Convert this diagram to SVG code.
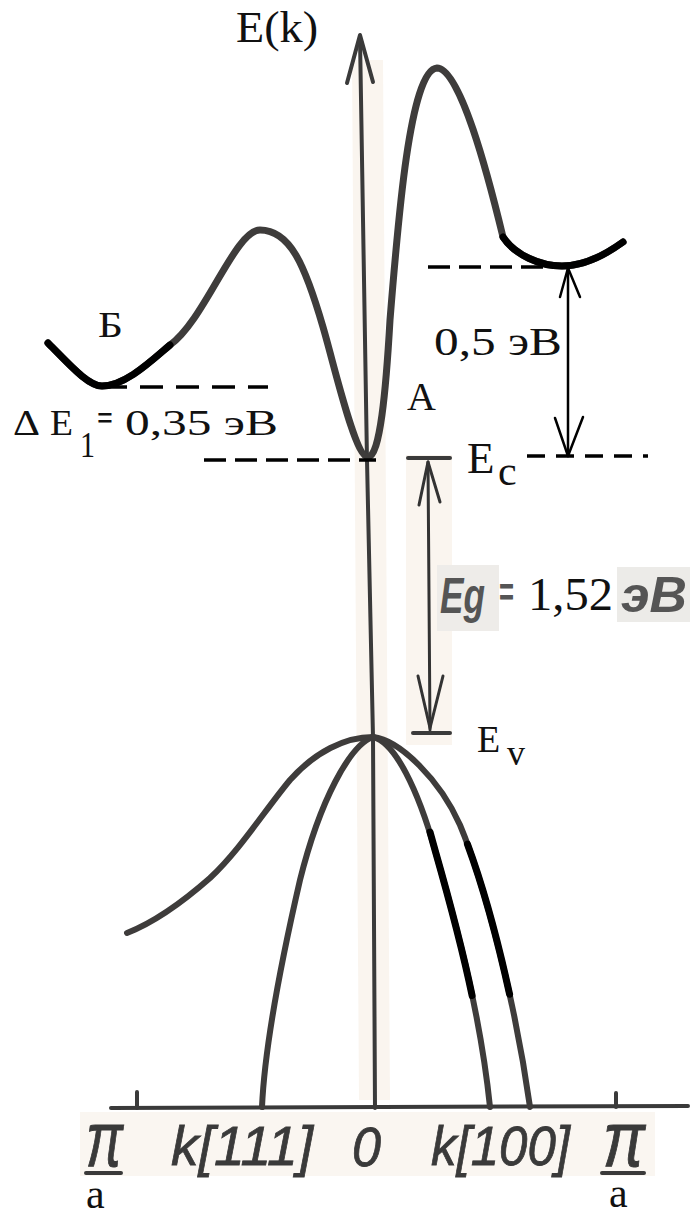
<svg xmlns="http://www.w3.org/2000/svg" width="692" height="1218" viewBox="0 0 692 1218">
<style>
.band{fill:none;stroke:#3e3c3b;stroke-width:7;stroke-linecap:round;stroke-linejoin:round}
.vb{fill:none;stroke:#3e3c3b;stroke-width:6;stroke-linecap:round}
.blk{fill:none;stroke:#000;stroke-width:7;stroke-linecap:round}
.ax{fill:none;stroke:#3a3a3a;stroke-width:4;stroke-linecap:round;stroke-linejoin:round}
.dash{fill:none;stroke:#000;stroke-width:3.5}
.arr{fill:none;stroke:#000;stroke-width:2.5;stroke-linecap:round;stroke-linejoin:round}
.arr2{fill:none;stroke:#333;stroke-width:3;stroke-linecap:round;stroke-linejoin:round}
.serif{fill:#111}
.gost{font-family:"Liberation Sans",Arial,sans-serif;font-style:italic;fill:#3a3a3a;stroke:#3a3a3a;stroke-width:0.8}
.tint{fill:#faf5ef}
</style>
<rect width="692" height="1218" fill="#fff"/>
<g id="tints">
<path class="tint" d="M352,60 L383,60 L390,1100 L359,1100 Z"/>
<path class="tint" d="M406,455 L452,455 L452,745 L406,745 Z"/>
<rect x="80" y="1112" width="575" height="64" fill="#faf6f1"/>
<rect x="437" y="565" width="62" height="66" fill="#eeece9"/>
<rect x="617" y="567" width="73" height="55" fill="#ecebe8"/>
</g>
<g id="axes">
<path class="ax" d="M360,38 L367,460 L373,737 L375,1108"/>
<path class="ax" d="M347,83 L360,35 L373,82"/>
<path class="ax" d="M111,1108 L688,1106"/>
<path class="ax" stroke-width="3" d="M137,1092 L137,1108 M616,1093 L616,1107"/>
</g>
<g id="conduction-band">
<path class="band" d="M48,343 C70,365 88,386 102,386 C125,386 150,362 170,345 C205,320 235,230 260,230 C290,230 305,265 323,327 C335,368 355,457 368,457 C380,457 386,390 390,320 C398,220 410,70 437,68 C460,68 488,175 503,237 C515,255 540,266 562,266 C585,266 605,255 623,242"/>
<path class="blk" d="M48,343 C70,365 88,386 102,386 C125,386 150,362 170,345"/>
<path class="blk" d="M503,237 C515,255 540,266 562,266 C585,266 605,255 623,242"/>
</g>
<g id="valence-bands">
<path class="vb" d="M373,737 C345,737 315,752 290,780 C265,810 240,850 210,878 C185,900 155,922 127,933"/>
<path class="vb" d="M373,737 C350,745 320,800 300,880 C285,945 265,1040 262,1107"/>
<path class="vb" d="M373,737 C395,742 418,790 435,850 C455,920 480,1010 490,1107"/>
<path class="vb" d="M373,737 C400,740 440,780 460,825 C485,885 515,1000 530,1107"/>
<path class="blk" stroke-width="6" d="M430,832 L435,850 C447,892 460.8,941.2 472.1,995.5"/>
<path class="blk" stroke-width="6" d="M467.4,844 C481.7,882.8 496.9,936.5 509.6,994.3"/>
</g>
<g id="levels">
<path class="dash" stroke-dasharray="23 13" d="M104,387 L268,387"/>
<path class="dash" stroke-dasharray="22 9" d="M204,460 L376,460"/>
<path class="ax" stroke-width="3.5" d="M408,458 L450,458"/>
<path class="dash" stroke-width="3" stroke-dasharray="18 11" d="M527,456 L648,456"/>
<path class="dash" stroke-dasharray="22 9" d="M428,267 L560,267"/>
<path class="ax" stroke-width="3.5" d="M413,733 L450,733"/>
</g>
<g id="connectors">
<path class="arr" d="M568,268 L568,456"/>
<path class="arr" d="M560,297 L568,268 L580,297"/>
<path class="arr" d="M555,418 L568,456 L583,417"/>
<path class="arr2" d="M428,462 L430,730"/>
<path class="arr2" d="M419,505 L428,462 L440,502"/>
<path class="arr2" d="M418,676 L430,728 L443,676"/>
</g>
<g id="labels" font-family="'Liberation Serif', 'Times New Roman', serif">
<text class="serif" x="236" y="42" font-size="44" textLength="82" lengthAdjust="spacingAndGlyphs">E(k)</text>
<text class="serif" x="98" y="337" font-size="36" textLength="25" lengthAdjust="spacingAndGlyphs">Б</text>
<text class="serif" x="407" y="410" font-size="40">A</text>
<text class="serif" x="434" y="355" font-size="40" textLength="128" lengthAdjust="spacingAndGlyphs">0,5 эВ</text>
<text class="serif" x="13" y="435" font-size="36" textLength="27" lengthAdjust="spacingAndGlyphs">Δ</text>
<text class="serif" x="50" y="435" font-size="36" textLength="23" lengthAdjust="spacingAndGlyphs">E</text>
<text class="serif" x="80" y="457" font-size="36" textLength="15" lengthAdjust="spacingAndGlyphs">1</text>
<text class="serif" x="97" y="430" font-size="36" font-weight="bold" textLength="16" lengthAdjust="spacingAndGlyphs">=</text>
<text class="serif" x="125" y="435" font-size="36" textLength="153" lengthAdjust="spacingAndGlyphs">0,35 эВ</text>
<text class="serif" x="467" y="473" font-size="45">E</text>
<text class="serif" x="498" y="485" font-size="42">c</text>
<text class="serif" x="477" y="752" font-size="38">E</text>
<text class="serif" x="507" y="765" font-size="36">v</text>
<text x="440" y="613" font-size="50" font-family="'Liberation Sans', Arial, sans-serif" font-style="italic" font-weight="bold" fill="#555" textLength="45" lengthAdjust="spacingAndGlyphs">Eg</text>
<text x="499" y="606" font-size="40" font-family="'Liberation Sans', Arial, sans-serif" font-weight="bold" fill="#555" textLength="15" lengthAdjust="spacingAndGlyphs">=</text>
<text class="serif" x="528" y="610" font-size="46" textLength="85" lengthAdjust="spacingAndGlyphs">1,52</text>
<text x="621" y="612" font-size="50" font-family="'Liberation Sans', Arial, sans-serif" font-style="italic" font-weight="bold" fill="#555" textLength="66" lengthAdjust="spacingAndGlyphs">эВ</text>
<text class="gost" x="171" y="1165" font-size="56" textLength="142" lengthAdjust="spacingAndGlyphs">k[111]</text>
<text class="gost" x="352" y="1166" font-size="56" textLength="29" lengthAdjust="spacingAndGlyphs">0</text>
<text class="gost" x="431" y="1165" font-size="56" textLength="139" lengthAdjust="spacingAndGlyphs">k[100]</text>
<g transform="translate(86,1166) scale(1,1.25)"><text class="gost" x="0" y="0" font-size="62" textLength="37" lengthAdjust="spacingAndGlyphs">π</text></g>
<g transform="translate(603,1166) scale(1,1.25)"><text class="gost" x="0" y="0" font-size="62" textLength="42" lengthAdjust="spacingAndGlyphs">π</text></g>
<path class="ax" d="M86,1173 L121,1173 M602,1173 L644,1173"/>
<text class="serif" x="86" y="1208" font-size="42">a</text>
<text class="serif" x="609" y="1207" font-size="42">a</text>
</g>
</svg>
